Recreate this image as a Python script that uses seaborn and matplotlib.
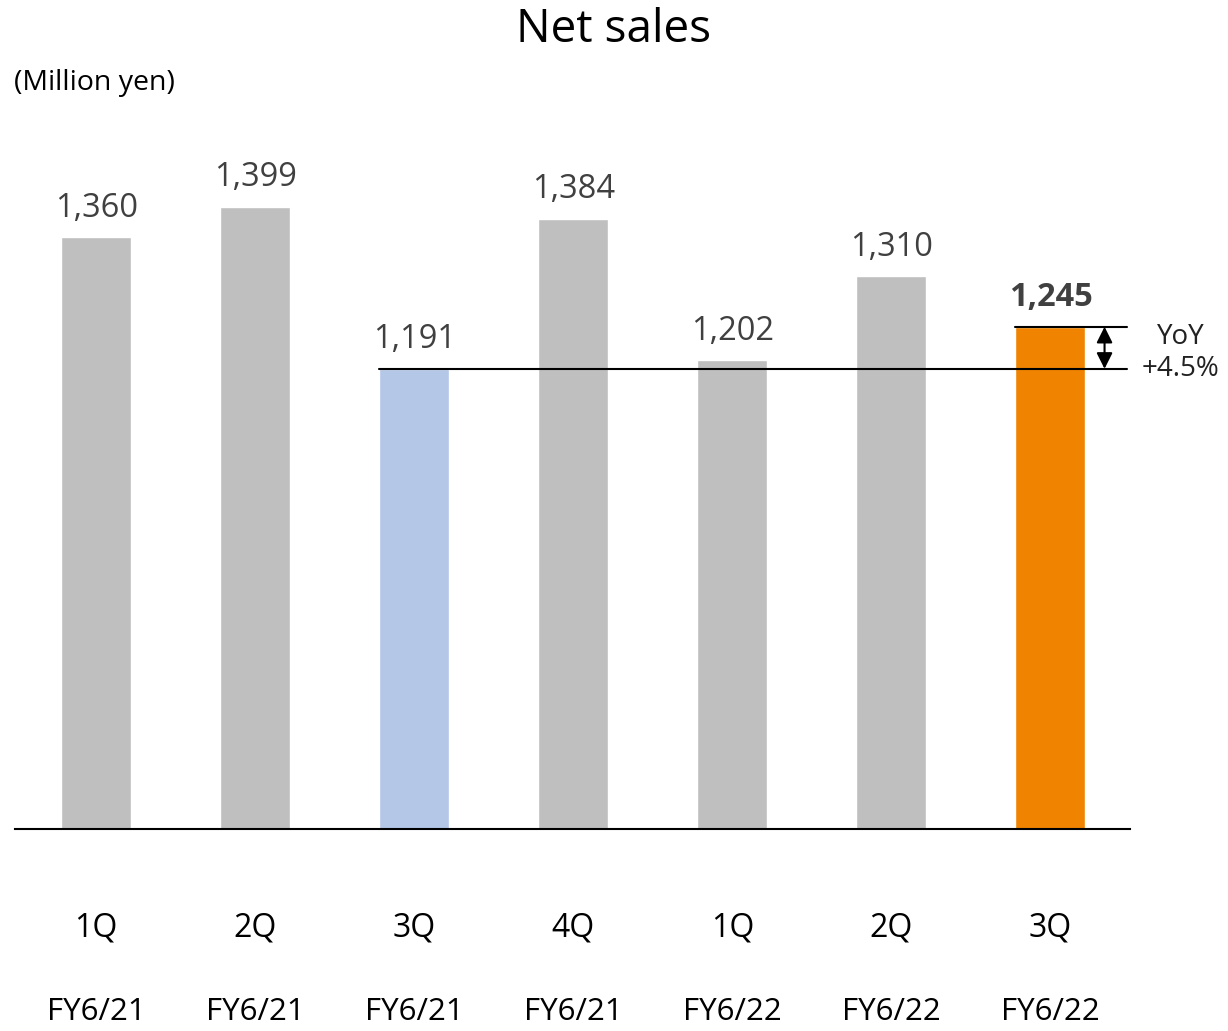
import matplotlib
matplotlib.use("Agg")
import matplotlib.pyplot as plt
import seaborn as sns
import pandas as pd

quarters = ["1Q", "2Q", "3Q", "4Q", "1Q", "2Q", "3Q"]
fiscal_years = ["FY6/21", "FY6/21", "FY6/21", "FY6/21", "FY6/22", "FY6/22", "FY6/22"]
net_sales = [1360, 1399, 1191, 1384, 1202, 1310, 1245]
bar_colors = ["#BFBFBF", "#BFBFBF", "#B4C7E7", "#BFBFBF", "#BFBFBF", "#BFBFBF", "#F08300"]
yoy_text = ["YoY", "+4.5%"]

sns.set_theme(style="white")
plt.rcParams['font.family'] = ['Open Sans', 'DejaVu Sans']

df = pd.DataFrame({"period": [f"p{i}" for i in range(len(net_sales))], "sales": net_sales})

fig = plt.figure(figsize=(12.28, 10.31), dpi=100)
ax = fig.add_axes([15/1228, 202/1031, (1130-15)/1228, 700/1031])

sns.barplot(data=df, x="period", y="sales", hue="period", palette=bar_colors,
            width=0.44, legend=False, ax=ax, saturation=1)

ax.set_xlim(-0.51, 6.5)
ax.set_ylim(600, 1499)
for s in ["top", "right", "left"]:
    ax.spines[s].set_visible(False)
ax.spines["bottom"].set_color("black")
ax.spines["bottom"].set_linewidth(1.5)
ax.set_yticks([])
ax.set_ylabel("")
ax.set_xlabel("")
ax.set_xticks(range(len(net_sales)))
ax.set_xticklabels([])
ax.tick_params(axis="x", length=0)

xt = ax.get_xaxis_transform()
for i, (q, fy) in enumerate(zip(quarters, fiscal_years)):
    ax.text(i, -0.141, q, transform=xt, ha="center", va="center", fontsize=23, color="black")
    ax.text(i, -0.262, fy, transform=xt, ha="center", va="center", fontsize=22.5, color="black")

for i, v in enumerate(net_sales):
    last = i == len(net_sales) - 1
    ax.text(i, v + 16, f"{v:,}", ha="center", va="bottom", fontsize=23.5,
            color="#404040", fontweight="bold" if last else "normal")

# comparison lines
ax.plot([2 - 0.22, 6.48], [net_sales[2], net_sales[2]], color="black", lw=1.5, clip_on=False)
ax.plot([6 - 0.22, 6.48], [net_sales[6], net_sales[6]], color="black", lw=1.5, clip_on=False)
ax.annotate("", xy=(6.34, net_sales[6]), xytext=(6.34, net_sales[2]),
            arrowprops=dict(arrowstyle="<|-|>", color="black", lw=1.5,
                            mutation_scale=24, shrinkA=0, shrinkB=0))
ax.text(6.82, 1232, yoy_text[0], ha="center", va="center", fontsize=20, color="#222222", clip_on=False)
ax.text(6.82, 1191, yoy_text[1], ha="center", va="center", fontsize=20, color="#222222", clip_on=False)

fig.text(0.5, 1 - 30/1031, "Net sales", ha="center", va="center", fontsize=33, color="black")
fig.text(14/1228, 1 - 83/1031, "(Million yen)", ha="left", va="center", fontsize=20.5, color="black")

fig.savefig("out.png", dpi=100)
